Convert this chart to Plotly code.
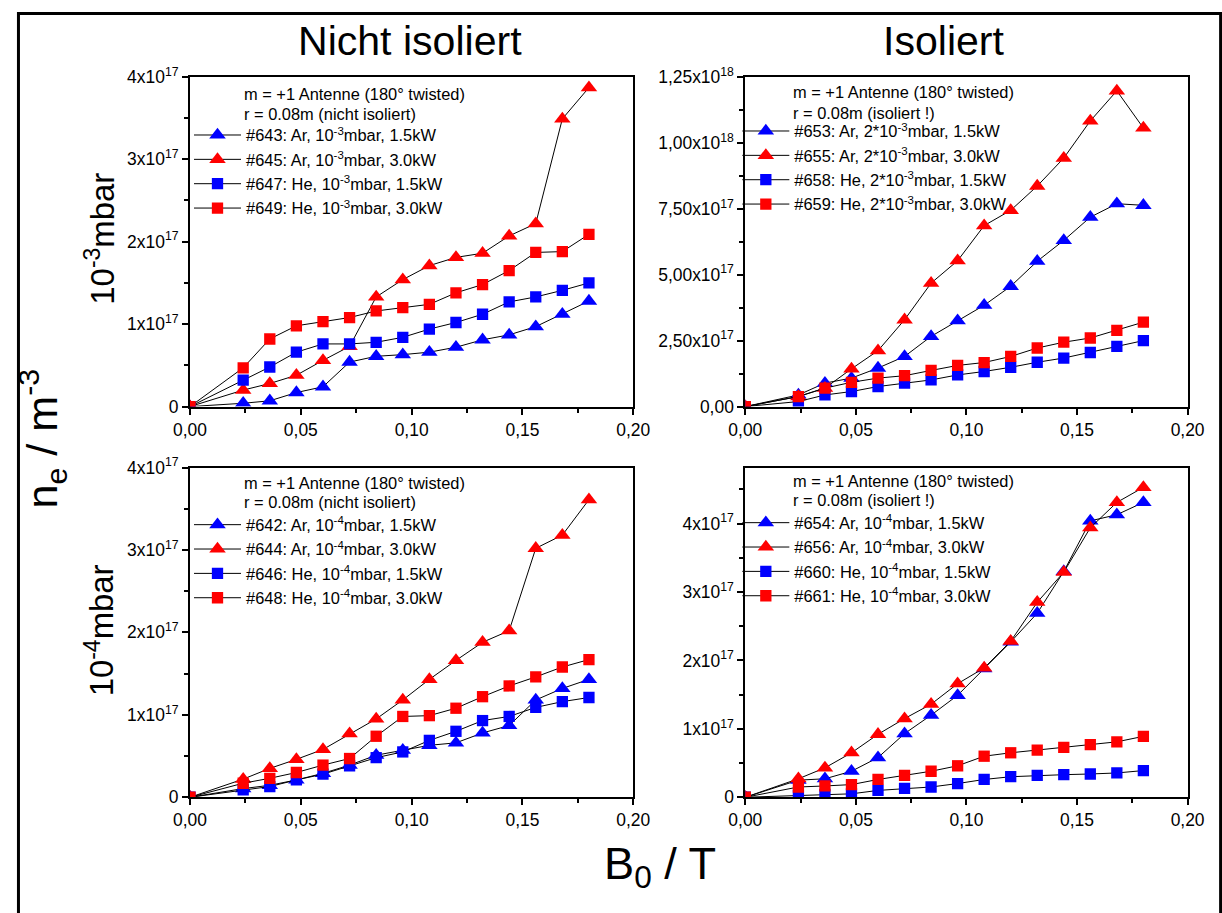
import plotly.graph_objects as go

# ---------------- data ----------------
b_field = [0.0, 0.024, 0.036, 0.048, 0.060, 0.072, 0.084, 0.096, 0.108, 0.120,
           0.132, 0.144, 0.156, 0.168, 0.180]

# top-left: 1e-3 mbar, nicht isoliert  (values in 1e17 m^-3)
n643 = [0, 0.04, 0.07, 0.17, 0.24, 0.54, 0.61, 0.63, 0.66, 0.72, 0.81, 0.87, 0.97, 1.12, 1.28]
n645 = [0, 0.20, 0.28, 0.38, 0.56, 0.73, 1.33, 1.54, 1.71, 1.81, 1.86, 2.07, 2.22, 3.49, 3.87]
n647 = [0, 0.32, 0.48, 0.66, 0.76, 0.76, 0.78, 0.84, 0.94, 1.02, 1.12, 1.27, 1.33, 1.41, 1.50]
n649 = [0, 0.47, 0.82, 0.98, 1.03, 1.08, 1.16, 1.20, 1.24, 1.38, 1.48, 1.65, 1.87, 1.88, 2.09]

# top-right: 2*1e-3 mbar, isoliert  (values in 1e18 m^-3)
n653 = [0, 0.044, 0.089, 0.108, 0.146, 0.190, 0.266, 0.326, 0.384, 0.456, 0.551, 0.630, 0.718, 0.769, 0.763]
n655 = [0, 0.038, 0.070, 0.143, 0.212, 0.329, 0.468, 0.553, 0.686, 0.744, 0.836, 0.942, 1.083, 1.197, 1.056]
n658 = [0, 0.019, 0.044, 0.057, 0.076, 0.089, 0.101, 0.120, 0.133, 0.149, 0.168, 0.184, 0.205, 0.228, 0.250]
n659 = [0, 0.038, 0.070, 0.092, 0.108, 0.117, 0.137, 0.156, 0.167, 0.190, 0.222, 0.244, 0.260, 0.289, 0.320]

# bottom-left: 1e-4 mbar, nicht isoliert  (values in 1e17 m^-3)
n642 = [0, 0.105, 0.145, 0.21, 0.29, 0.39, 0.51, 0.57, 0.63, 0.66, 0.78, 0.87, 1.18, 1.32, 1.43]
n644 = [0, 0.22, 0.35, 0.46, 0.58, 0.77, 0.95, 1.18, 1.43, 1.66, 1.88, 2.02, 3.02, 3.18, 3.61]
n646 = [0, 0.09, 0.13, 0.21, 0.28, 0.38, 0.48, 0.55, 0.69, 0.80, 0.93, 0.98, 1.09, 1.16, 1.21]
n648 = [0, 0.17, 0.23, 0.30, 0.39, 0.47, 0.74, 0.98, 0.99, 1.08, 1.22, 1.35, 1.46, 1.58, 1.67]

# bottom-right: 1e-4 mbar, isoliert  (values in 1e17 m^-3)
n654 = [0, 0.25, 0.27, 0.38, 0.58, 0.93, 1.20, 1.49, 1.88, 2.27, 2.69, 3.30, 4.04, 4.13, 4.31]
n656 = [0, 0.27, 0.43, 0.65, 0.92, 1.15, 1.36, 1.66, 1.89, 2.28, 2.85, 3.29, 3.94, 4.31, 4.53]
n660 = [0, 0.03, 0.04, 0.05, 0.10, 0.13, 0.15, 0.20, 0.26, 0.30, 0.32, 0.33, 0.34, 0.355, 0.39]
n661 = [0, 0.15, 0.165, 0.185, 0.26, 0.32, 0.38, 0.46, 0.60, 0.65, 0.69, 0.73, 0.77, 0.81, 0.89]

x_ticks = [0, 0.05, 0.10, 0.15, 0.20]
x_ticktext = ["0,00", "0,05", "0,10", "0,15", "0,20"]
y17_ticks = [0, 1e17, 2e17, 3e17, 4e17]
y17_text = ["0", "1x10<sup>17</sup>", "2x10<sup>17</sup>", "3x10<sup>17</sup>", "4x10<sup>17</sup>"]
y18_ticks = [0, 2.5e17, 5e17, 7.5e17, 1e18, 1.25e18]
y18_text = ["0,00", "2,50x10<sup>17</sup>", "5,00x10<sup>17</sup>", "7,50x10<sup>17</sup>",
            "1,00x10<sup>18</sup>", "1,25x10<sup>18</sup>"]

header1 = "m = +1 Antenne (180° twisted)"
header_ni = "r = 0.08m (nicht isoliert)"
header_i = "r = 0.08m (isoliert !)"

panels = [
    ("x", "y", "legend", 1e17, [
        ("#643: Ar, 10<sup>-3</sup>mbar, 1.5kW", n643, "blue", "triangle-up"),
        ("#645: Ar, 10<sup>-3</sup>mbar, 3.0kW", n645, "red", "triangle-up"),
        ("#647: He, 10<sup>-3</sup>mbar, 1.5kW", n647, "blue", "square"),
        ("#649: He, 10<sup>-3</sup>mbar, 3.0kW", n649, "red", "square"),
    ]),
    ("x2", "y2", "legend2", 1e18, [
        ("#653: Ar, 2*10<sup>-3</sup>mbar, 1.5kW", n653, "blue", "triangle-up"),
        ("#655: Ar, 2*10<sup>-3</sup>mbar, 3.0kW", n655, "red", "triangle-up"),
        ("#658: He, 2*10<sup>-3</sup>mbar, 1.5kW", n658, "blue", "square"),
        ("#659: He, 2*10<sup>-3</sup>mbar, 3.0kW", n659, "red", "square"),
    ]),
    ("x3", "y3", "legend3", 1e17, [
        ("#642: Ar, 10<sup>-4</sup>mbar, 1.5kW", n642, "blue", "triangle-up"),
        ("#644: Ar, 10<sup>-4</sup>mbar, 3.0kW", n644, "red", "triangle-up"),
        ("#646: He, 10<sup>-4</sup>mbar, 1.5kW", n646, "blue", "square"),
        ("#648: He, 10<sup>-4</sup>mbar, 3.0kW", n648, "red", "square"),
    ]),
    ("x4", "y4", "legend4", 1e17, [
        ("#654: Ar, 10<sup>-4</sup>mbar, 1.5kW", n654, "blue", "triangle-up"),
        ("#656: Ar, 10<sup>-4</sup>mbar, 3.0kW", n656, "red", "triangle-up"),
        ("#660: He, 10<sup>-4</sup>mbar, 1.5kW", n660, "blue", "square"),
        ("#661: He, 10<sup>-4</sup>mbar, 3.0kW", n661, "red", "square"),
    ]),
]

FONT = "Liberation Sans, Arial, sans-serif"
COL = {"blue": "#0000FF", "red": "#FF0000"}

# figure size and mapping from target-picture pixels to figure paper fractions
FW, FH = 1240, 924
SX, OX = 0.972, 17.1
SY, OY = 0.977, 11.1
FS = 1 / 0.974  # size compensation


def px_x(p):
    return ((p - OX) / SX) / FW


def px_y(p):
    return 1 - ((p - OY) / SY) / FH


fig = go.Figure()
for xa, ya, lg, scale, series in panels:
    for name, vals, col, sym in series:
        fig.add_trace(go.Scatter(
            x=b_field, y=[v * scale for v in vals], name=name,
            mode="lines+markers", xaxis=xa, yaxis=ya, legend=lg,
            line=dict(color="black", width=1),
            marker=dict(color=COL[col], symbol=sym,
                        size=(14 if sym == "triangle-up" else 11) * FS,
                        line=dict(width=0)),
        ))

xl = [px_x(190), px_x(633)]
xr = [px_x(745), px_x(1187)]
yt = [px_y(406), px_y(76)]
yb = [px_y(797), px_y(467)]

axis_common = dict(showline=True, linewidth=2, linecolor="black", mirror=True,
                   ticks="outside", ticklen=6, tickwidth=2, tickcolor="black",
                   showgrid=False, zeroline=False,
                   tickfont=dict(family=FONT, size=17 * FS, color="black"))

x_minor = [0.025, 0.075, 0.125, 0.175]


def xaxis(domain, anchor):
    return dict(domain=domain, anchor=anchor, range=[0, 0.2], tickmode="array",
                tickvals=x_ticks, ticktext=x_ticktext,
                minor=dict(ticks="outside", ticklen=4, tickwidth=2, tickcolor="black",
                           tickmode="array", tickvals=x_minor),
                **axis_common)


def yaxis(domain, anchor, rng, tv, tt, minor):
    return dict(domain=domain, anchor=anchor, range=rng, tickmode="array",
                tickvals=tv, ticktext=tt,
                minor=dict(ticks="outside", ticklen=4, tickwidth=2, tickcolor="black",
                           tickmode="array", tickvals=minor),
                **axis_common)


minor17 = [0.5e17, 1.5e17, 2.5e17, 3.5e17, 4.5e17]
minor18 = [1.25e17, 3.75e17, 6.25e17, 8.75e17, 1.125e18]

fig.update_layout(
    xaxis=xaxis(xl, "y"),
    yaxis=yaxis(yt, "x", [0, 4e17], y17_ticks, y17_text, minor17[:4]),
    xaxis2=xaxis(xr, "y2"),
    yaxis2=yaxis(yt, "x2", [0, 1.25e18], y18_ticks, y18_text, minor18),
    xaxis3=xaxis(xl, "y3"),
    yaxis3=yaxis(yb, "x3", [0, 4e17], y17_ticks, y17_text, minor17[:4]),
    xaxis4=xaxis(xr, "y4"),
    yaxis4=yaxis(yb, "x4", [0, 4.82e17], y17_ticks, y17_text, minor17),
)

leg_common = dict(font=dict(family=FONT, size=16 * FS, color="black"),
                  bgcolor="rgba(0,0,0,0)", borderwidth=0, itemwidth=47,
                  xanchor="left", yanchor="top", tracegroupgap=0,
                  itemclick=False)
fig.update_layout(
    legend=dict(x=px_x(189), y=px_y(117), **leg_common),
    legend2=dict(x=px_x(737), y=px_y(113), **leg_common),
    legend3=dict(x=px_x(189), y=px_y(507), **leg_common),
    legend4=dict(x=px_x(737), y=px_y(505), **leg_common),
)

annotations = []
for xp, y1, y2, txt in [(242, 93, 113, header_ni), (791, 91, 112, header_i),
                        (242, 482, 502, header_ni), (791, 480, 500, header_i)]:
    annotations.append(dict(x=px_x(xp), y=px_y(y1), xref="paper", yref="paper",
                            text=header1, showarrow=False, xanchor="left", yanchor="middle",
                            font=dict(family=FONT, size=16 * FS, color="black")))
    annotations.append(dict(x=px_x(xp), y=px_y(y2), xref="paper", yref="paper",
                            text=txt, showarrow=False, xanchor="left", yanchor="middle",
                            font=dict(family=FONT, size=16 * FS, color="black")))

big = dict(family=FONT, color="black")
for x, y, txt, ang, size in [
    (410, 40, "Nicht isoliert", 0, 40),
    (943, 40, "Isoliert", 0, 40),
    (100, 238, "10<sup>-3</sup>mbar", -90, 32),
    (100, 630, "10<sup>-4</sup>mbar", -90, 32),
    (42, 438, "n<sub>e</sub> / m<sup>-3</sup>", -90, 42),
    (660, 866, "B<sub>0</sub> / T", 0, 44),
]:
    annotations.append(dict(x=px_x(x), y=px_y(y), xref="paper", yref="paper",
                            text=txt, textangle=ang, showarrow=False,
                            xanchor="center", yanchor="middle",
                            font=dict(size=size * FS, **big)))

fig.update_layout(
    width=FW, height=FH, margin=dict(l=0, r=0, t=0, b=0),
    paper_bgcolor="white", plot_bgcolor="white",
    annotations=annotations,
    shapes=[dict(type="rect", xref="paper", yref="paper",
                 x0=1.5 / FW, x1=px_x(1220), y0=-0.02, y1=1 - 1.5 / FH,
                 line=dict(color="black", width=3), layer="below")],
    font=dict(family=FONT),
)

fig.write_html("out.html", config={"displayModeBar": False},
               post_script="document.body.style.margin='0';document.body.style.overflow='hidden';")
